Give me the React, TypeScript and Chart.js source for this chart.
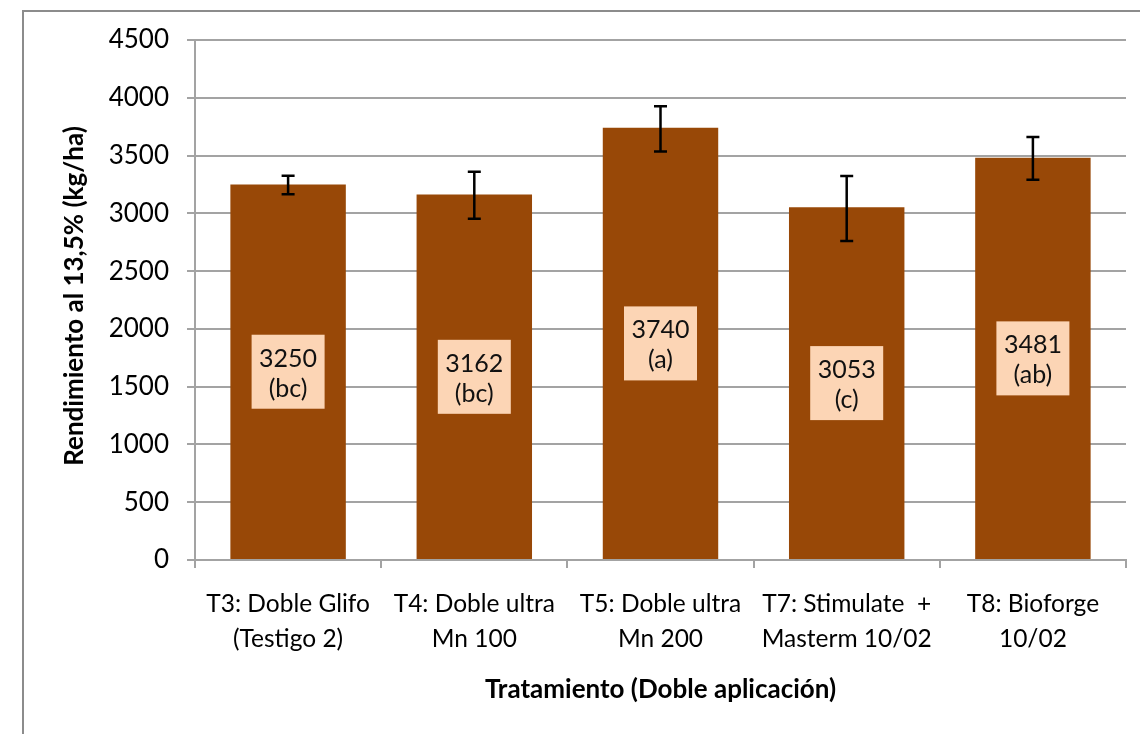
import React, { useEffect, useRef } from "react";
import { Chart, registerables } from "chart.js";

Chart.register(...registerables);

const categories: string[][] = [
  ["T3: Doble Glifo", "(Testigo 2)"],
  ["T4: Doble ultra", "Mn 100"],
  ["T5: Doble ultra", "Mn 200"],
  ["T7: Stimulate  +", "Masterm 10/02"],
  ["T8: Bioforge", "10/02"],
];
const yields: number[] = [3250, 3162, 3740, 3053, 3481];
const errorCenters: number[] = [3246, 3157, 3731, 3042, 3476];
const errors: number[] = [80, 203, 195, 281, 185];
const letters: string[] = ["(bc)", "(bc)", "(a)", "(c)", "(ab)"];
const yMin = 0;
const yMax = 4500;
const yStep = 500;
const xTitle = "Tratamiento (Doble aplicación)";
const yTitle = "Rendimiento al 13,5% (kg/ha)";

const FONT = "Lato, 'Noto Sans', sans-serif";
const GRID = "#a3a3a3";
const BAR = "#984807";
const BOX = "#fcd5b5";

const overlay = {
  id: "overlay",
  beforeDraw(chart: any) {
    const ctx = chart.ctx;
    ctx.save();
    ctx.fillStyle = "#ffffff";
    ctx.fillRect(0, 0, chart.width, chart.height);
    ctx.strokeStyle = "#8c8c8c";
    ctx.lineWidth = 2;
    ctx.beginPath();
    ctx.moveTo(23, chart.height);
    ctx.lineTo(23, 11);
    ctx.lineTo(chart.width, 11);
    ctx.stroke();
    ctx.restore();
  },
  afterDatasetsDraw(chart: any) {
    const ctx = chart.ctx;
    const meta = chart.getDatasetMeta(0);
    const y = chart.scales.y;
    ctx.save();
    meta.data.forEach((bar: any, i: number) => {
      const cx = bar.x;
      const cy = (bar.y + bar.base) / 2;
      const w = 73;
      const h = 74;
      ctx.fillStyle = BOX;
      ctx.fillRect(cx - w / 2, cy - h / 2, w, h);
      ctx.fillStyle = "#111";
      ctx.font = `25px ${FONT}`;
      ctx.textAlign = "center";
      ctx.textBaseline = "alphabetic";
      ctx.fillText(String(yields[i]), cx, cy - 5);
      ctx.fillText(letters[i], cx, cy + 25);
    });
    // error bars
    ctx.strokeStyle = "#000";
    ctx.lineWidth = 2.5;
    meta.data.forEach((bar: any, i: number) => {
      const cx = bar.x;
      const top = y.getPixelForValue(errorCenters[i] + errors[i]);
      const bot = y.getPixelForValue(errorCenters[i] - errors[i]);
      ctx.beginPath();
      ctx.moveTo(cx, top);
      ctx.lineTo(cx, bot);
      ctx.moveTo(cx - 6.5, top);
      ctx.lineTo(cx + 6.5, top);
      ctx.moveTo(cx - 6.5, bot);
      ctx.lineTo(cx + 6.5, bot);
      ctx.stroke();
    });
    ctx.restore();
  },
  afterDraw(chart: any) {
    const ctx = chart.ctx;
    const a = chart.chartArea;
    ctx.save();
    ctx.fillStyle = "#000";
    ctx.font = `bold 26px ${FONT}`;
    ctx.textAlign = "center";
    ctx.textBaseline = "middle";
    ctx.fillText(xTitle, (a.left + a.right) / 2, 690);
    ctx.translate(75, (a.top + a.bottom) / 2 - 4);
    ctx.rotate(-Math.PI / 2);
    ctx.fillText(yTitle, 0, 0);
    ctx.restore();
  },
};

export default function App() {
  const ref = useRef<HTMLCanvasElement | null>(null);
  useEffect(() => {
    if (!ref.current) return;
    const chart = new Chart(ref.current, {
      type: "bar",
      data: {
        labels: categories,
        datasets: [
          {
            data: yields,
            backgroundColor: BAR,
            borderWidth: 0,
            barPercentage: 0.62,
            categoryPercentage: 1,
          },
        ],
      },
      options: {
        responsive: false,
        animation: false,
        devicePixelRatio: 1,
        layout: { padding: { left: 0, right: 14, top: 40, bottom: 0 } },
        plugins: {
          legend: { display: false },
          tooltip: { enabled: false },
        },
        scales: {
          x: {
            offset: true,
            grid: {
              display: true,
              drawOnChartArea: false,
              drawTicks: true,
              tickLength: 8,
              color: GRID,
              lineWidth: 2,
              offset: true,
            },
            border: { display: true, color: GRID, width: 2 },
            ticks: {
              color: "#000",
              font: { family: FONT, size: 24.5, lineHeight: 1.43 },
              padding: 19,
              maxRotation: 0,
              autoSkip: false,
            },
            afterFit(scale: any) {
              scale.height = 174;
            },
          },
          y: {
            min: yMin,
            max: yMax,
            grid: {
              color: GRID,
              lineWidth: 2,
              drawTicks: true,
              tickLength: 8,
            },
            border: { display: true, color: GRID, width: 2 },
            ticks: {
              stepSize: yStep,
              color: "#000",
              font: { family: FONT, size: 26 },
              padding: 18,
              callback: (v: any) => String(v),
            },
            afterFit(scale: any) {
              scale.width = 195;
            },
          },
        },
      },
      plugins: [overlay],
    });
    return () => chart.destroy();
  }, []);
  return (
    <div style={{ position: "absolute", left: 0, top: 0, width: 1140, height: 734 }}>
      <canvas ref={ref} width={1140} height={734} style={{ width: 1140, height: 734 }} />
    </div>
  );
}
